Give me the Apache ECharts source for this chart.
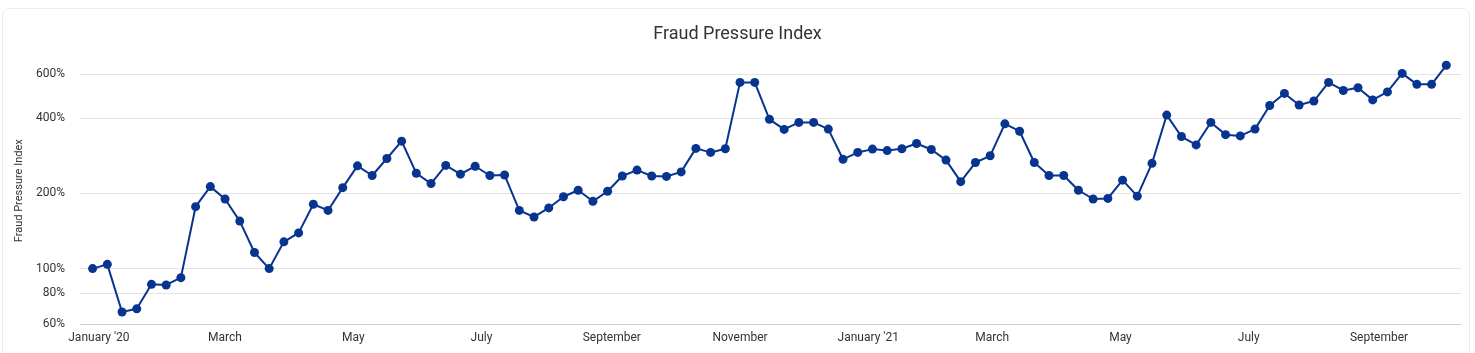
<!DOCTYPE html>
<html>
<head>
<meta charset="utf-8">
<title>Fraud Pressure Index</title>
<script src="https://cdn.jsdelivr.net/npm/echarts@6/dist/echarts.min.js"></script>
<style>
  html, body { margin: 0; padding: 0; background: #fff; }
  .card {
    position: absolute; left: 2px; top: 8px; width: 1468px; height: 360px;
    border: 1px solid #ececec; border-radius: 8px; box-sizing: border-box;
  }
  #chart { position: absolute; left: 0; top: 0; width: 1475px; height: 353px; }
</style>
</head>
<body>
<div class="card"></div>
<div id="chart"></div>
<script>
// weekly observations
const weeks = [
  '2019-12-29',
  '2020-01-05', '2020-01-12', '2020-01-19', '2020-01-26',
  '2020-02-02', '2020-02-09', '2020-02-16', '2020-02-23',
  '2020-03-01', '2020-03-08', '2020-03-15', '2020-03-22', '2020-03-29',
  '2020-04-05', '2020-04-12', '2020-04-19', '2020-04-26',
  '2020-05-03', '2020-05-10', '2020-05-17', '2020-05-24', '2020-05-31',
  '2020-06-07', '2020-06-14', '2020-06-21', '2020-06-28',
  '2020-07-05', '2020-07-12', '2020-07-19', '2020-07-26',
  '2020-08-02', '2020-08-09', '2020-08-16', '2020-08-23', '2020-08-30',
  '2020-09-06', '2020-09-13', '2020-09-20', '2020-09-27',
  '2020-10-04', '2020-10-11', '2020-10-18', '2020-10-25',
  '2020-11-01', '2020-11-08', '2020-11-15', '2020-11-22', '2020-11-29',
  '2020-12-06', '2020-12-13', '2020-12-20', '2020-12-27',
  '2021-01-03', '2021-01-10', '2021-01-17', '2021-01-24', '2021-01-31',
  '2021-02-07', '2021-02-14', '2021-02-21', '2021-02-28',
  '2021-03-07', '2021-03-14', '2021-03-21', '2021-03-28',
  '2021-04-04', '2021-04-11', '2021-04-18', '2021-04-25',
  '2021-05-02', '2021-05-09', '2021-05-16', '2021-05-23', '2021-05-30',
  '2021-06-06', '2021-06-13', '2021-06-20', '2021-06-27',
  '2021-07-04', '2021-07-11', '2021-07-18', '2021-07-25',
  '2021-08-01', '2021-08-08', '2021-08-15', '2021-08-22', '2021-08-29',
  '2021-09-05', '2021-09-12', '2021-09-19', '2021-09-26',
  '2021-10-03'
]

// index values, in percent
const fraudIndex = [
  100,
  104, 67, 69, 86.5,
  86, 92, 177, 213,
  190, 155, 116, 100, 128,
  139, 181, 171, 211,
  258, 236, 276, 324, 241,
  219, 259, 239, 257,
  236, 237, 171, 161,
  175, 194, 206, 186, 204,
  235, 248, 235, 234,
  244, 303, 292, 302,
  557, 557, 396, 361, 385,
  385, 362, 274, 292,
  301, 297, 302, 317, 300,
  272, 223, 266, 283,
  380, 355, 266, 236,
  236, 206, 190, 191,
  226, 195, 264, 412, 338,
  313, 385, 344, 340,
  362, 450, 503, 452,
  469, 557, 517, 530, 474,
  510, 605, 547, 547,
  652
]

const yTicks = [60, 80, 100, 200, 400, 600]
const xTicks = ['2020-01-01', '2020-03-01', '2020-05-01', '2020-07-01', '2020-09-01', '2020-11-01',
  '2021-01-01', '2021-03-01', '2021-05-01', '2021-07-01', '2021-09-01']
const monthNames = ['January', 'February', 'March', 'April', 'May', 'June', 'July',
  'August', 'September', 'October', 'November', 'December']

const toTime = (s) => echarts.time.parse(s).getTime()

const chart = echarts.init(document.getElementById('chart'))

const option = {
  animation: false,
  textStyle: { fontFamily: 'Roboto, sans-serif' },
  title: {
    text: 'Fraud Pressure Index',
    left: 'center',
    top: 20,
    textStyle: { fontSize: 18, fontWeight: 'normal', color: '#333', fontFamily: 'Roboto, sans-serif' }
  },
  grid: { left: 80, right: 14, top: 57.6, bottom: 29, containLabel: false },
  xAxis: {
    type: 'value',
    min: toTime('2019-12-23'),
    max: toTime('2021-10-10'),
    axisLine: { lineStyle: { color: '#c5d3ea', width: 1 } },
    axisTick: { show: false },
    splitLine: { show: false },
    axisLabel: {
      customValues: xTicks.map(toTime),
      color: '#333',
      fontSize: 12,
      margin: 8,
      formatter: (value) => {
        const d = new Date(value)
        const name = monthNames[d.getMonth()]
        return d.getMonth() === 0 ? `${name} '${String(d.getFullYear()).slice(2)}` : name
      }
    }
  },
  yAxis: {
    type: 'log',
    logBase: 10,
    min: 60,
    max: 700,
    name: 'Fraud Pressure Index',
    nameLocation: 'middle',
    nameGap: 54,
    nameTextStyle: { fontSize: 11, color: '#333' },
    axisLine: { show: false },
    axisTick: { show: false, customValues: yTicks },
    splitLine: { show: true, lineStyle: { color: '#e3e3e3', width: 1 } },
    axisLabel: {
      customValues: yTicks,
      color: '#333',
      fontSize: 12,
      margin: 15,
      formatter: (value) => `${value}%`
    }
  },
  series: [{
    type: 'line',
    data: weeks.map((w, i) => [toTime(w), fraudIndex[i]]),
    symbol: 'circle',
    symbolSize: 9,
    lineStyle: { color: '#06348f', width: 2 },
    itemStyle: { color: '#06348f' }
  }]
}

chart.setOption(option)
</script>
</body>
</html>
